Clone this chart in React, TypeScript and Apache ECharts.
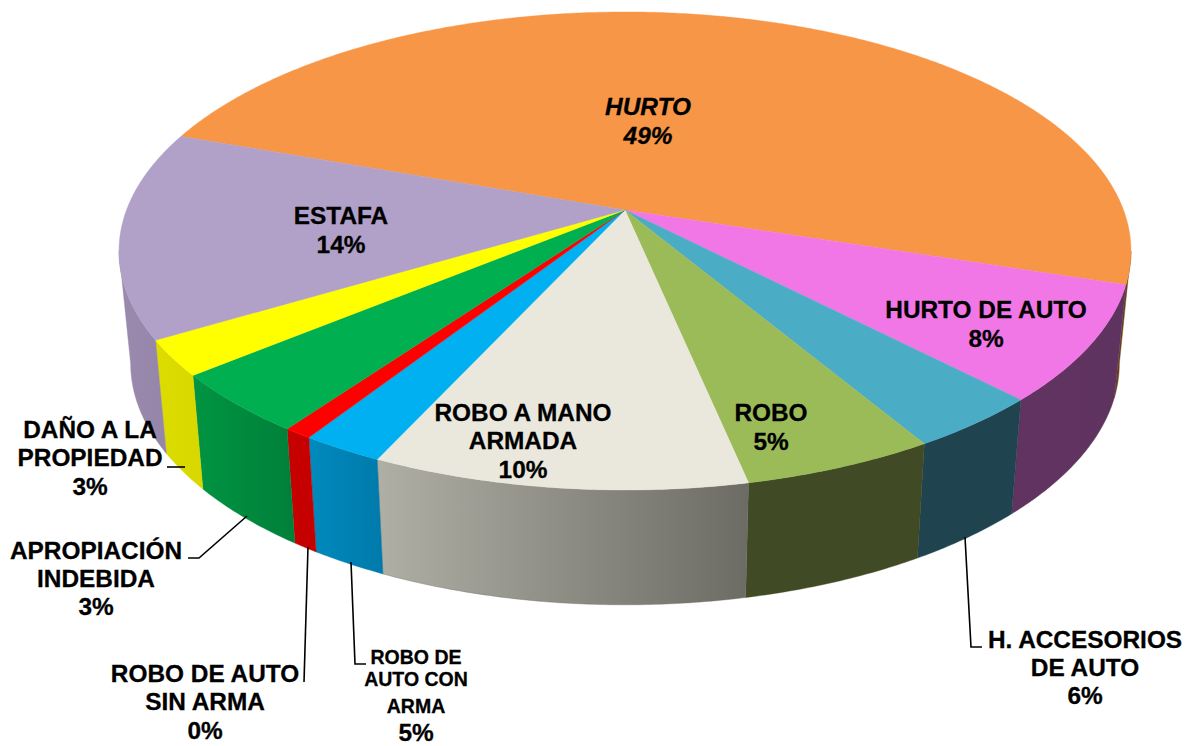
import React, { useEffect, useRef } from "react";
import * as echarts from "echarts";

const categories = ["HURTO", "HURTO DE AUTO", "H. ACCESORIOS DE AUTO", "ROBO", "ROBO A MANO ARMADA", "ROBO DE AUTO CON ARMA", "ROBO DE AUTO SIN ARMA", "APROPIACIÓN INDEBIDA", "DAÑO A LA PROPIEDAD", "ESTAFA"];
const sliceValues = [49.5, 7.8, 3.7, 5.25, 10.2, 2.24, 0.78, 4.13, 2.4, 14];
const percentLabels = ["49%", "8%", "6%", "5%", "10%", "5%", "0%", "3%", "3%", "14%"];
const topColors = ["#F79646", "#F277E6", "#4BACC6", "#9BBB59", "#EAE8DD", "#00B0F0", "#FF0000", "#00B050", "#FFFF00", "#B1A0C7"];
const wallColors = [["#6B3F1A", "#6B3F1A"], ["#613360", "#5F3360"], ["#1F4450", "#1F4450"], ["#404A24", "#404A24"], ["#B0AFA6", "#6C6C64"], ["#008ABD", "#007AAB"], ["#C80000", "#C40000"], ["#009442", "#00803A"], ["#DCDC00", "#D8D800"], ["#9A8AAE", "#9586A8"]];

// Perspective of the pie's disc on the page
const APEX_X = 625, APEX_Y = 210, RX = 498.5, RY = 232, K = 0.1715;
const START_DEG = 199.6, WALL_FROM = 9.9, WALL_TO = 170.1;
const WALL_DROP = 112, WALL_SX = 0.977, WALL_SY = 1.01;
const FONT = '"Liberation Sans", Arial, sans-serif';

const total = sliceValues.reduce((a, b) => a + b, 0);
const bounds: number[] = [];
let acc = START_DEG;
sliceValues.forEach((v) => { bounds.push(acc); acc += (v / total) * 360; });
bounds.push(acc);

function topPoint(deg: number) {
  const t = (deg * Math.PI) / 180;
  const u = Math.cos(t), v = Math.sin(t), w = 1 - K * v;
  return [(RX * u) / w, (RY * v) / w];
}
const rimTop = (deg: number) => { const p = topPoint(deg); return [APEX_X + p[0], APEX_Y + p[1]]; };
const rimBottom = (deg: number) => { const p = topPoint(deg); return [APEX_X + WALL_SX * p[0], APEX_Y + WALL_DROP + WALL_SY * p[1]]; };

function arcAngles(a: number, b: number) {
  const out: number[] = [];
  const n = Math.max(2, Math.ceil((b - a) / 0.5));
  for (let i = 0; i <= n; i++) out.push(a + ((b - a) * i) / n);
  return out;
}

function renderTop(params: any) {
  const i = params.dataIndex;
  const pts = [[APEX_X, APEX_Y], ...arcAngles(bounds[i], bounds[i + 1]).map(rimTop)];
  return { type: "polygon", shape: { points: pts }, style: { fill: topColors[i], stroke: topColors[i], lineWidth: 0.4 } };
}

function renderWall(params: any) {
  const i = params.dataIndex;
  // bring the slice's range onto the visible front of the wall
  let a = bounds[i], b = bounds[i + 1];
  if (a > 360) { a -= 360; b -= 360; }
  if (b > 360 && a < 360) { a = 360; }
  const lo = b > 360 ? Math.max(a - 360, WALL_FROM) : Math.max(a, WALL_FROM);
  const hi = b > 360 ? b - 360 : Math.min(b, WALL_TO);
  if (hi <= lo) return { type: "group", children: [] };
  const as = arcAngles(lo, hi);
  const pts = [...as.map(rimTop), ...as.slice().reverse().map(rimBottom)];
  const grad = new echarts.graphic.LinearGradient(0, 0, 1, 0, [
    { offset: 0, color: wallColors[i][0] },
    { offset: 1, color: wallColors[i][1] },
  ]);
  return { type: "polygon", shape: { points: pts }, style: { fill: grad, stroke: wallColors[i][1], lineWidth: 0.4 } };
}

// Label placement: [text, centre x, centre y of first line, font size, line height, italic]
const labelLayout: [string, number, number, number, number, boolean][] = [
  [`HURTO\n${percentLabels[0]}`, 648, 106, 24.4, 29, true],
  [`HURTO DE AUTO\n${percentLabels[1]}`, 986, 309, 24.4, 29, false],
  [`H. ACCESORIOS\nDE AUTO\n${percentLabels[2]}`, 1085, 639, 24.4, 28, false],
  [`ROBO\n${percentLabels[3]}`, 771, 412, 24.4, 29, false],
  [`ROBO A MANO\nARMADA\n${percentLabels[4]}`, 523, 412, 24.4, 28.5, false],
  ["ROBO DE\nAUTO CON", 416, 657, 19.5, 22, false],
  ["ARMA", 416, 706, 19.5, 22, false],
  [percentLabels[5], 416, 732, 24.4, 28, false],
  [`ROBO DE AUTO\nSIN ARMA\n${percentLabels[6]}`, 205, 673, 24.4, 28.5, false],
  [`APROPIACIÓN\nINDEBIDA\n${percentLabels[7]}`, 96, 550, 24.4, 28, false],
  [`DAÑO A LA\nPROPIEDAD\n${percentLabels[8]}`, 90, 429, 24.4, 28.5, false],
  [`ESTAFA\n${percentLabels[9]}`, 341, 215, 24.4, 29, false],
];

const leaderLines: number[][][] = [
  [[167, 467], [185, 467]],
  [[188, 558], [199, 558], [247, 516]],
  [[308, 547], [304, 682]],
  [[351, 562], [355, 664], [366, 664]],
  [[965, 537], [971, 647], [982, 647]],
];

export default function App() {
  const ref = useRef<HTMLDivElement>(null);
  useEffect(() => {
    const chart = echarts.init(ref.current!, undefined, { renderer: "svg" });
    chart.setOption({
      animation: false,
      backgroundColor: "#ffffff",
      series: [
        {
          type: "custom", coordinateSystem: "none", z: 1, silent: true,
          data: categories.map((name, i) => ({ name, value: sliceValues[i] })),
          renderItem: (params: any) => renderWall(params),
        },
        {
          type: "custom", coordinateSystem: "none", z: 2, silent: true,
          data: categories.map((name, i) => ({ name, value: sliceValues[i] })),
          renderItem: (params: any) => renderTop(params),
        },
      ],
      graphic: [
        ...leaderLines.map((points) => ({
          type: "polyline", z: 5, silent: true, shape: { points },
          style: { stroke: "#000000", lineWidth: 1.6, fill: "none" },
        })),
        ...labelLayout.map(([text, x, y, size, lh, italic]) => ({
          type: "text", z: 10, silent: true, x, y: y - lh / 2,
          style: {
            text, fill: "#000000", stroke: "#000000", lineWidth: 0.3,
            font: `${italic ? "italic " : ""}bold ${size}px ${FONT}`,
            lineHeight: lh, align: "center", verticalAlign: "top",
          },
        })),
      ],
    });
    return () => chart.dispose();
  }, []);
  return <div ref={ref} style={{ position: "fixed", left: 0, top: 0, width: 1189, height: 746 }} />;
}
